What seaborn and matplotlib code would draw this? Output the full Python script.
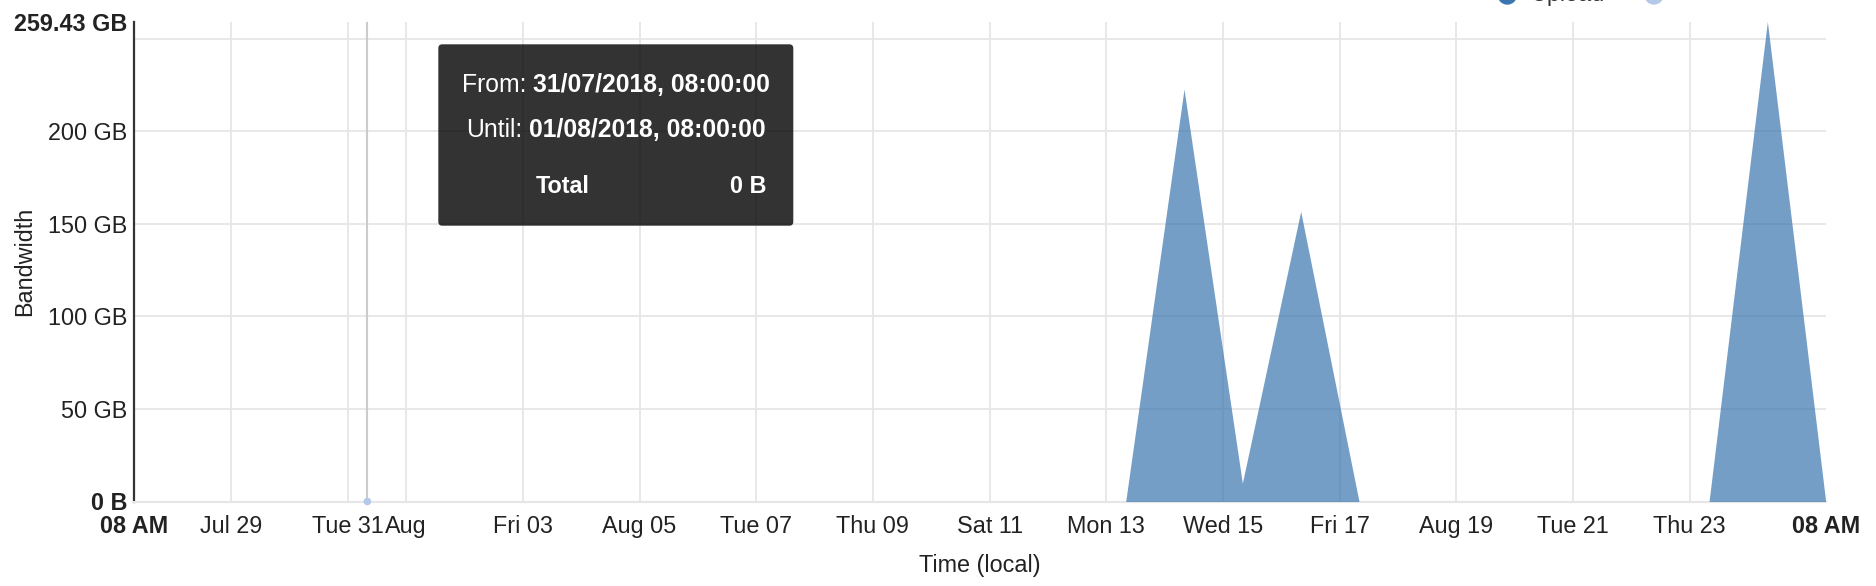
import pandas as pd
import seaborn as sns
import matplotlib.pyplot as plt
from matplotlib.patches import FancyBboxPatch, Circle

# daily totals (GB), one point per day at 08:00 local
dates = pd.date_range("2018-07-27 08:00", "2018-08-25 08:00", freq="D")
bandwidth_gb = [0, 0, 0, 0, 0, 0, 0, 0, 0, 0,
                0, 0, 0, 0, 0, 0, 0, 0, 222.9, 9.9,
                156.8, 0, 0, 0, 0, 0, 0, 0, 259.43, 0]

x_tick_dates = ["2018-07-27 08:00", "2018-07-29 00:00", "2018-07-31 00:00", "2018-08-01 00:00",
                "2018-08-03 00:00", "2018-08-05 00:00", "2018-08-07 00:00", "2018-08-09 00:00",
                "2018-08-11 00:00", "2018-08-13 00:00", "2018-08-15 00:00", "2018-08-17 00:00",
                "2018-08-19 00:00", "2018-08-21 00:00", "2018-08-23 00:00", "2018-08-25 08:00"]
x_tick_labels = ["08 AM", "Jul 29", "Tue 31", "Aug", "Fri 03", "Aug 05", "Tue 07", "Thu 09",
                 "Sat 11", "Mon 13", "Wed 15", "Fri 17", "Aug 19", "Tue 21", "Thu 23", "08 AM"]
y_ticks = [0, 50, 100, 150, 200, 250, 259.43]
y_tick_labels = ["0 B", "50 GB", "100 GB", "150 GB", "200 GB", "", "259.43 GB"]

hover_time = pd.Timestamp("2018-07-31 08:00")
legend_names = ["Upload", "Download"]

BLUE = "#3a75b0"
LIGHT_BLUE = "#b4c8ea"
GRID = "#e6e6e6"
TEXT = "#222222"
FS = 16.8

sns.set_theme(style="white")
plt.rcParams["font.family"] = ["Liberation Sans", "DejaVu Sans"]
plt.rcParams.update({"font.size": FS, "xtick.labelsize": FS, "ytick.labelsize": FS,
                     "axes.labelsize": FS})

fig = plt.figure(figsize=(18.76, 5.86), dpi=100)
ax = fig.add_axes([134 / 1876, 1 - 501.5 / 586, (1825.7 - 134) / 1876, 480 / 586])

df = pd.DataFrame({"time": dates, "bandwidth": bandwidth_gb})
sns.lineplot(data=df, x="time", y="bandwidth", ax=ax, color=BLUE, linewidth=0)
ax.fill_between(df["time"], df["bandwidth"], 0, color=BLUE, alpha=0.7, linewidth=0, zorder=3)

# crosshair of the hovered point
ax.axvline(hover_time, color="#cccccc", linewidth=1.5, zorder=2)
sns.scatterplot(x=[hover_time], y=[0], ax=ax, color=LIGHT_BLUE, s=30, edgecolor="none",
                zorder=4, clip_on=False)

ax.set_xlim(dates[0], dates[-1])
ax.set_ylim(0, 259.43)

ax.set_xticks(pd.to_datetime(x_tick_dates, format="%Y-%m-%d %H:%M"))
ax.set_xticklabels(x_tick_labels)
ax.set_yticks(y_ticks)
ax.set_yticklabels(y_tick_labels)
for i in (0, -1):
    ax.get_xticklabels()[i].set_fontweight("bold")
    ax.get_yticklabels()[i].set_fontweight("bold")

ax.set_axisbelow(True)
ax.grid(True, color=GRID, linewidth=1.3)
ax.xaxis.get_gridlines()[0].set_visible(False)
ax.xaxis.get_gridlines()[-1].set_visible(False)
ax.yaxis.get_gridlines()[-1].set_visible(False)
ax.tick_params(axis="x", length=0, pad=10, colors=TEXT)
ax.tick_params(axis="y", length=0, pad=5, colors=TEXT)

for s in ("top", "right"):
    ax.spines[s].set_visible(False)
ax.spines["left"].set_color("#333333")
ax.spines["left"].set_linewidth(1.6)
ax.spines["bottom"].set_color(GRID)
ax.spines["bottom"].set_linewidth(1.5)

ax.set_xlabel("Time (local)", color=TEXT, labelpad=11)
ax.set_ylabel("Bandwidth", color=TEXT)
ax.yaxis.set_label_coords((36 - 134) / 1691.7, 0.5)

# tooltip (figure inches)
inch = fig.dpi_scale_trans
box = FancyBboxPatch((4.383, 3.603), 3.55, 1.814, boxstyle="round,pad=0,rounding_size=0.04",
                     facecolor="black", alpha=0.8, edgecolor="none", transform=inch, zorder=10)
fig.add_artist(box)

renderer = fig.canvas.get_renderer()
cx = 6.158
TIP_FS = 17.8
space = 0.278 * TIP_FS / 72


def tooltip_line(y, label, value):
    t1 = fig.text(0, y, label, color="white", transform=inch, va="baseline",
                  fontsize=TIP_FS, zorder=11)
    t2 = fig.text(0, y, value, color="white", weight="bold", transform=inch, va="baseline",
                  fontsize=TIP_FS, zorder=11)
    w1 = t1.get_window_extent(renderer).width / fig.dpi
    w2 = t2.get_window_extent(renderer).width / fig.dpi
    start = cx - (w1 + space + w2) / 2
    t1.set_x(start)
    t2.set_x(start + w1 + space)


tooltip_line(4.943, "From:", "31/07/2018, 08:00:00")
tooltip_line(4.487, "Until:", "01/08/2018, 08:00:00")
fig.text(5.36, 3.927, "Total", color="white", weight="bold", transform=inch, va="baseline", zorder=11)
fig.text(7.667, 3.927, "0 B", color="white", weight="bold", transform=inch, va="baseline",
         ha="right", zorder=11)

# legend, cut off at the top edge as in the screenshot
for cxl, col, name in zip([15.073, 16.54], [BLUE, LIGHT_BLUE], legend_names):
    fig.add_artist(Circle((cxl, 5.91), 0.09, color=col, transform=inch))
    fig.text(cxl + 0.23, 5.855, name, color="#333333", transform=inch, va="baseline")

fig.savefig("out.png", dpi=100)
